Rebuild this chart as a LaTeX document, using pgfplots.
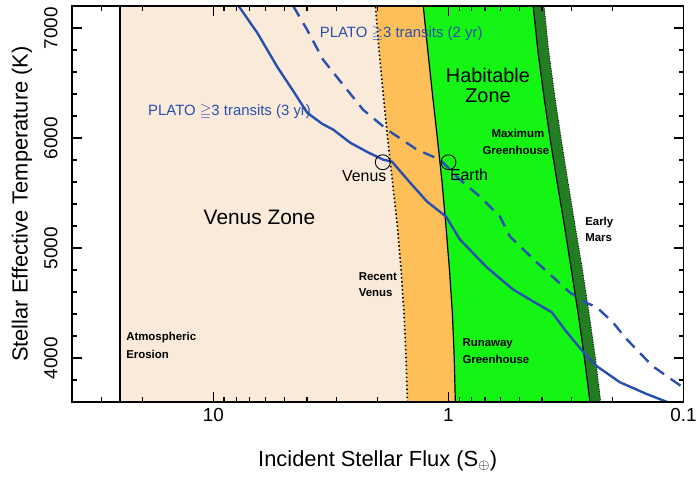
\documentclass[border=0pt]{standalone}
\usepackage{amssymb}
\usepackage{fontspec}
\setmainfont{Liberation Sans}
\usepackage{pgfplots}
\pgfplotsset{compat=1.18}
\definecolor{venus}{RGB}{250,234,217}
\definecolor{rvorange}{RGB}{254,190,88}
\definecolor{hzgreen}{RGB}{20,245,20}
\definecolor{dkgreen}{RGB}{35,125,35}
\definecolor{plato}{RGB}{40,80,175}
\begin{document}
\begin{tikzpicture}
\path (-72bp,-78bp) rectangle (628bp,403bp);
\begin{axis}[
  at={(0,0)}, anchor=south west, scale only axis, width=613bp, height=397bp,
  xmode=log, x dir=reverse, xmin=0.1, xmax=40, ymin=3600, ymax=7200,
  xtick={0.1,1,10}, xticklabels={0.1,1,10},
  minor xtick={0.2,0.3,0.4,0.5,0.6,0.7,0.8,0.9,2,3,4,5,6,7,8,9,20,30},
  ytick={4000,5000,6000,7000}, yticklabels={4000,5000,6000,7000},
  minor ytick={3800,4200,4400,4600,4800,5200,5400,5600,5800,6200,6400,6600,6800,7200},
  major tick length=10bp, minor tick length=5bp,
  tick style={black, line width=1.3bp},
  axis line style={line width=1.6bp},
  ticklabel style={font=\fontsize{19}{22}\selectfont},
  xticklabel style={yshift=-3bp},
  yticklabel style={xshift=-14bp, rotate=90, anchor=south, inner sep=0pt},
  axis on top,
]
% Venus zone
\addplot[fill=venus, draw=none] coordinates {(25,3600) (25,7200) (2.045,7200) (1.975,6800) (1.895,6400) (1.815,6000) (1.73,5600) (1.65,5200) (1.59,4800) (1.545,4400) (1.515,4000) (1.495,3600)};
% Recent Venus -> Runaway greenhouse
\addplot[fill=rvorange, draw=none] coordinates {(1.495,3600) (1.515,4000) (1.545,4400) (1.59,4800) (1.65,5200) (1.73,5600) (1.815,6000) (1.895,6400) (1.975,6800) (2.045,7200)
 (1.280,7200) (1.225,6800) (1.170,6400) (1.115,6000) (1.065,5600) (1.025,5200) (0.990,4800) (0.962,4400) (0.945,4000) (0.935,3600)};
% Habitable zone
\addplot[fill=hzgreen, draw=none] coordinates {(0.935,3600) (0.945,4000) (0.962,4400) (0.990,4800) (1.025,5200) (1.065,5600) (1.115,6000) (1.170,6400) (1.225,6800) (1.280,7200)
 (0.436,7200) (0.417,6800) (0.394,6400) (0.370,6000) (0.345,5600) (0.321,5200) (0.300,4800) (0.2805,4400) (0.264,4000) (0.250,3600)};
% Max greenhouse -> Early Mars
\addplot[fill=dkgreen, draw=none] coordinates {(0.250,3600) (0.264,4000) (0.2805,4400) (0.300,4800) (0.321,5200) (0.345,5600) (0.370,6000) (0.394,6400) (0.417,6800) (0.436,7200)
 (0.392,7200) (0.375,6800) (0.354,6400) (0.332,6000) (0.310,5600) (0.289,5200) (0.269,4800) (0.252,4400) (0.237,4000) (0.225,3600)};
% boundary lines
\addplot[black, line width=1.4bp] coordinates {(25,3600) (25,7200)};
\addplot[black, line width=1.6bp, dash pattern=on 1.5bp off 2.5bp] coordinates {(1.495,3600) (1.515,4000) (1.545,4400) (1.59,4800) (1.65,5200) (1.73,5600) (1.815,6000) (1.895,6400) (1.975,6800) (2.045,7200)};
\addplot[black, line width=1.2bp] coordinates {(0.935,3600) (0.945,4000) (0.962,4400) (0.990,4800) (1.025,5200) (1.065,5600) (1.115,6000) (1.170,6400) (1.225,6800) (1.280,7200)};
\addplot[black, line width=1.2bp] coordinates {(0.250,3600) (0.264,4000) (0.2805,4400) (0.300,4800) (0.321,5200) (0.345,5600) (0.370,6000) (0.394,6400) (0.417,6800) (0.436,7200)};
\addplot[black, line width=0.8bp, dash pattern=on 1bp off 1.5bp] coordinates {(0.225,3600) (0.237,4000) (0.252,4400) (0.269,4800) (0.289,5200) (0.310,5600) (0.332,6000) (0.354,6400) (0.375,6800) (0.392,7200)};
% PLATO 3 yr (solid)
\addplot[plato, line width=2.4bp] coordinates {(7.81,7200) (6.50,6955) (5.35,6647) (4.55,6420) (3.99,6230) (3.45,6130) (3.09,6076) (2.62,5958) (2.20,5870) (1.897,5804) (1.738,5785) (1.457,5595) (1.234,5423) (1.025,5287) (0.894,5078) (0.687,4825) (0.532,4625) (0.438,4517) (0.3635,4417) (0.314,4236) (0.258,4018) (0.234,3927) (0.187,3782) (0.1436,3674) (0.117,3600)};
% PLATO 2 yr (dashed)
\addplot[plato, line width=2.4bp, dash pattern=on 12bp off 8bp] coordinates {(4.575,7200) (3.99,6982) (3.41,6710) (2.805,6483) (2.307,6257) (1.824,6076) (1.361,5894) (1.087,5804) (0.894,5622) (0.735,5468) (0.604,5287) (0.548,5106) (0.421,4870) (0.305,4598) (0.268,4517) (0.234,4462) (0.200,4326) (0.1746,4172) (0.1354,3927) (0.1,3730)};
% Venus and Earth
\addplot[only marks, mark=o, mark size=7.5bp, mark options={draw=black, line width=0.9bp, fill=none}] coordinates {(1.903,5780) (1.0,5780)};
\end{axis}
% axis labels
\node[font=\fontsize{22}{26}\selectfont] at (306.5bp,-59bp) {Incident Stellar Flux (S$_{\oplus}$)};
\node[rotate=90, font=\fontsize{22}{26}\selectfont] at (-50bp,198.5bp) {Stellar Effective Temperature (K)};
% annotations
\node[plato, anchor=mid west, font=\fontsize{15}{17}\selectfont] at (73bp,290bp) {PLATO $\geqq$3 transits (3 yr)};
\node[plato, anchor=mid west, font=\fontsize{15}{17}\selectfont] at (245bp,368bp) {PLATO $\geqq$3 transits (2 yr)};
\node[anchor=mid, font=\fontsize{20}{24}\selectfont] at (417bp,323bp) {Habitable};
\node[anchor=mid, font=\fontsize{20}{24}\selectfont] at (417bp,303bp) {Zone};
\node[anchor=mid, font=\fontsize{21}{24}\selectfont] at (188bp,181bp) {Venus Zone};
\node[anchor=mid, font=\fontsize{16}{18}\selectfont] at (293bp,224bp) {Venus};
\node[anchor=mid, font=\fontsize{16}{18}\selectfont] at (398bp,225bp) {Earth};
\node[anchor=mid, font=\bfseries\fontsize{11.5}{13}\selectfont] at (447bp,268bp) {Maximum};
\node[anchor=mid, font=\bfseries\fontsize{11.5}{13}\selectfont] at (445bp,251bp) {Greenhouse};
\node[anchor=mid west, font=\bfseries\fontsize{11.5}{13}\selectfont] at (511bp,180bp) {Early};
\node[anchor=mid west, font=\bfseries\fontsize{11.5}{13}\selectfont] at (511bp,164bp) {Mars};
\node[anchor=mid west, font=\bfseries\fontsize{11.5}{13}\selectfont] at (388bp,58bp) {Runaway};
\node[anchor=mid west, font=\bfseries\fontsize{11.5}{13}\selectfont] at (388bp,41bp) {Greenhouse};
\node[anchor=mid west, font=\bfseries\fontsize{11.5}{13}\selectfont] at (284bp,125bp) {Recent};
\node[anchor=mid west, font=\bfseries\fontsize{11.5}{13}\selectfont] at (284bp,109bp) {Venus};
\node[anchor=mid west, font=\bfseries\fontsize{11.5}{13}\selectfont] at (51bp,64bp) {Atmospheric};
\node[anchor=mid west, font=\bfseries\fontsize{11.5}{13}\selectfont] at (51bp,46bp) {Erosion};
\end{tikzpicture}
\end{document}
